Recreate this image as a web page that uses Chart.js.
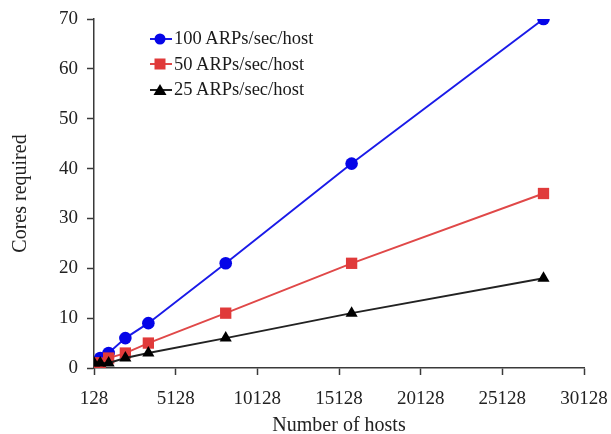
<!DOCTYPE html>
<html>
<head>
<meta charset="utf-8">
<script src="https://cdn.jsdelivr.net/npm/chart.js@4.4.1/dist/chart.umd.min.js"></script>
<style>
  html, body { margin: 0; padding: 0; background: #fff; }
  #wrap { position: relative; width: 611px; height: 434px; }
  #legend { position: absolute; left: 150px; top: 26px; font-family: "Liberation Serif", "Times New Roman", serif; font-size: 18.5px; color: #1a1a1a; }
  .row { height: 25.5px; display: flex; align-items: center; white-space: nowrap; }
  .row svg { margin-right: 2px; }
</style>
</head>
<body>
<div id="wrap">
  <canvas id="c" width="611" height="434"></canvas>
  <div id="legend"></div>
</div>
<script>
// ---- data ----
const hosts = [128, 512, 1024, 2048, 3456, 8192, 15900, 27648];
const cores100 = [1, 2, 3, 6, 9, 21, 41, 70];
const cores50  = [1, 1, 2, 3, 5, 11, 21, 35];
const cores25  = [1, 1, 1, 2, 3, 6, 11, 18];
const seriesLabels = ['100 ARPs/sec/host', '50 ARPs/sec/host', '25 ARPs/sec/host'];
const xTickValues = [128, 5128, 10128, 15128, 20128, 25128, 30128];
const yTickValues = [0, 10, 20, 30, 40, 50, 60, 70];

const toPts = (ys) => hosts.map((h, i) => ({ x: h, y: ys[i] }));
const axisColor = '#3a3a3a';
const textColor = '#222';
const serif = '"Liberation Serif", "Times New Roman", serif';

const styles = [
  { color: '#0505e8', line: '#1a1ae8', pointStyle: 'circle', radius: 6.3 },
  { color: '#e03a3a', line: '#e04848', pointStyle: 'rect', radius: 8 },
  { color: '#000000', line: '#222222', pointStyle: 'triangle', radius: 7 }
];
const allData = [cores100, cores50, cores25];

const datasets = allData.map((d, i) => ({
  label: seriesLabels[i],
  data: toPts(d),
  borderColor: styles[i].line,
  backgroundColor: styles[i].color,
  pointBackgroundColor: styles[i].color,
  pointBorderColor: styles[i].color,
  pointBorderWidth: 0,
  pointStyle: styles[i].pointStyle,
  pointRadius: styles[i].radius,
  borderWidth: 1.9,
  tension: 0,
  fill: false
}));

new Chart(document.getElementById('c'), {
  type: 'line',
  data: { datasets: datasets.slice().reverse() },
  options: {
    responsive: false,
    animation: false,
    events: [],
    layout: { padding: { top: 19, right: 27, bottom: 0, left: 0 } },
    plugins: { legend: { display: false }, tooltip: { enabled: false } },
    scales: {
      x: {
        type: 'linear',
        min: 128, max: 30128,
        afterBuildTicks: (s) => { s.ticks = xTickValues.map(v => ({ value: v })); },
        afterFit: (s) => { s.height = 66; s.paddingLeft = 0; s.paddingRight = 0; },
        grid: { display: true, drawOnChartArea: false, drawTicks: true, tickLength: 7, color: axisColor, tickWidth: 1.5 },
        border: { display: true, color: axisColor, width: 1.5 },
        ticks: { color: textColor, font: { family: serif, size: 19 }, padding: 13, maxRotation: 0, autoSkip: false,
                 callback: (v) => String(v) },
        title: { display: true, text: 'Number of hosts', color: textColor, font: { family: serif, size: 20 }, padding: { top: 0, bottom: -4 } }
      },
      y: {
        min: 0, max: 70,
        afterBuildTicks: (s) => { s.ticks = yTickValues.map(v => ({ value: v })); },
        afterFit: (s) => { s.width = 94; s.paddingTop = 0; s.paddingBottom = 0; },
        grid: { display: true, drawOnChartArea: false, drawTicks: true, tickLength: 7, color: axisColor, tickWidth: 1.5 },
        border: { display: true, color: axisColor, width: 1.5 },
        ticks: { color: textColor, font: { family: serif, size: 19 }, padding: 9 },
        title: { display: true, text: 'Cores required', color: textColor, font: { family: serif, size: 20 }, padding: { top: 9, bottom: 0 } }
      }
    }
  }
});

// HTML legend
const legend = document.getElementById('legend');
styles.forEach((st, i) => {
  const row = document.createElement('div');
  row.className = 'row';
  let marker;
  if (st.pointStyle === 'circle') marker = `<circle cx="10" cy="7" r="5.5" fill="${st.color}"/>`;
  else if (st.pointStyle === 'rect') marker = `<rect x="4.5" y="1.5" width="11" height="11" fill="${st.color}"/>`;
  else marker = `<polygon points="10,1 16.5,12 3.5,12" fill="${st.color}"/>`;
  row.innerHTML = `<svg width="22" height="14" viewBox="0 0 22 14"><line x1="0" y1="7" x2="22" y2="7" stroke="${st.line}" stroke-width="2"/>${marker}</svg><span>${seriesLabels[i]}</span>`;
  legend.appendChild(row);
});
</script>
</body>
</html>
